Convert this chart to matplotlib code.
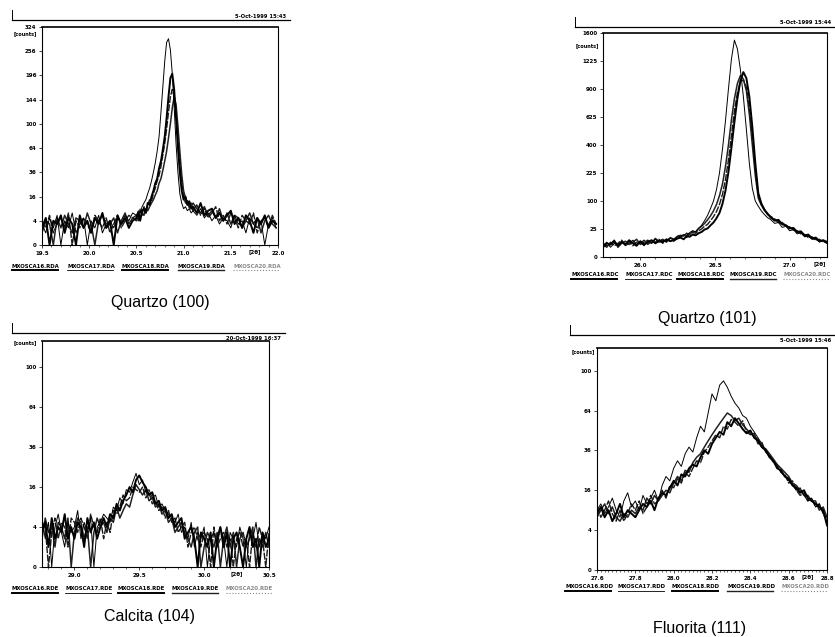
import numpy as np
import matplotlib
matplotlib.use("Agg")
import matplotlib.pyplot as plt
from matplotlib.ticker import MultipleLocator

W, H = 835, 637

# ---- Quartzo (100) : 2theta scan grid and counts of the 4 runs
q100_tt = np.concatenate([np.linspace(19.50, 20.46, 25),
                          np.linspace(20.50, 21.08, 30),
                          np.linspace(21.10, 21.98, 23)])
q100_a = [3, 1, 5, 2, 6, 0, 4, 2, 7, 1, 3, 5, 0, 4, 2, 6, 1, 3, 4, 2, 5, 3, 6, 4, 7,
          6, 8, 7, 10, 12, 14, 18, 22, 28, 36, 46, 60, 80, 120, 170, 230, 280, 290, 260, 200,
          130, 70, 36, 18, 12, 9, 10, 8, 9, 7,
          8, 6, 9, 5, 7, 4, 6, 3, 5, 4, 2, 6, 3, 4, 1, 5, 3, 2, 4, 0, 3, 5, 2]
q100_b = [2, 5, 0, 4, 3, 6, 1, 5, 3, 0, 6, 2, 4, 1, 5, 3, 7, 2, 4, 0, 6, 3, 5, 2, 4,
          5, 7, 4, 8, 9, 7, 12, 11, 16, 20, 26, 30, 40, 48, 62, 80, 110, 150, 190, 200,
          165, 110, 65, 36, 20, 14, 16, 11, 13, 9,
          10, 7, 12, 6, 8, 9, 5, 7, 4, 6, 8, 3, 5, 2, 6, 4, 1, 5, 3, 6, 2, 4, 3]
q100_c = [4, 2, 6, 1, 3, 5, 2, 7, 0, 4, 2, 5, 3, 1, 6, 4, 2, 5, 1, 3, 6, 2, 4, 6, 5,
          6, 4, 9, 6, 10, 8, 11, 14, 13, 18, 22, 28, 33, 42, 55, 70, 92, 120, 150, 165,
          150, 118, 80, 48, 26, 16, 12, 14, 9, 12,
          8, 11, 6, 9, 5, 7, 10, 4, 6, 3, 7, 5, 2, 6, 4, 3, 7, 1, 4, 5, 2, 6, 3]
q100_d = [1, 4, 3, 0, 5, 2, 6, 3, 1, 5, 4, 2, 7, 3, 0, 4, 6, 2, 3, 5, 1, 4, 7, 3, 5,
          4, 6, 5, 7, 6, 9, 8, 10, 12, 14, 17, 20, 26, 30, 38, 48, 60, 78, 100, 128,
          150, 135, 96, 60, 34, 20, 15, 11, 13, 10,
          12, 9, 7, 10, 6, 8, 5, 9, 4, 7, 3, 6, 5, 2, 4, 7, 3, 5, 1, 4, 6, 3, 2]

# ---- Quartzo (101)
q101_tt = np.concatenate([np.linspace(25.75, 26.25, 21),
                          np.linspace(26.27, 26.85, 30),
                          np.linspace(26.875, 27.25, 16)])
q101_a = [4, 7, 3, 6, 5, 8, 4, 6, 9, 5, 7, 4, 8, 6, 10, 7, 9, 8, 11, 10, 13,
          14, 16, 15, 19, 22, 20, 26, 32, 42, 55, 75, 100, 145, 225, 370, 590, 900, 1250, 1500, 1380,
          1120, 820, 520, 280, 150, 100, 82, 68, 58, 50,
          44, 36, 38, 28, 30, 22, 24, 17, 19, 13, 14, 10, 11, 7, 9, 6]
q101_b = [3, 6, 5, 8, 4, 7, 5, 9, 6, 4, 8, 5, 7, 9, 6, 8, 7, 10, 8, 9, 11,
          12, 10, 14, 13, 16, 15, 18, 20, 24, 26, 32, 38, 48, 62, 90, 140, 230, 380, 580, 800,
          990, 1090, 1020, 820, 540, 280, 130, 92, 72, 60,
          50, 42, 44, 34, 32, 26, 27, 20, 21, 15, 16, 11, 12, 8, 9, 7]
q101_c = [5, 3, 7, 4, 6, 9, 5, 8, 4, 7, 6, 9, 5, 8, 7, 10, 6, 9, 11, 8, 12,
          13, 15, 12, 17, 19, 18, 22, 25, 30, 34, 42, 52, 66, 88, 125, 190, 300, 470, 680, 860,
          980, 1000, 920, 720, 460, 240, 120, 88, 74, 58,
          52, 46, 40, 38, 31, 29, 23, 22, 17, 16, 12, 13, 9, 10, 7, 8]
q101_d = [6, 4, 5, 9, 3, 6, 8, 5, 7, 10, 5, 7, 9, 6, 11, 8, 10, 7, 12, 10, 14,
          15, 14, 18, 16, 21, 20, 26, 30, 36, 44, 54, 68, 88, 120, 170, 260, 400, 600, 800, 960,
          1050, 1010, 880, 650, 400, 210, 110, 86, 70, 62,
          48, 45, 38, 36, 32, 27, 25, 20, 19, 14, 14, 11, 10, 8, 8, 6]

# ---- Calcita (104)
cal_tt = np.linspace(28.75, 30.5, 71)
cal_a = [6, 2, 5, 0, 4, 7, 3, 1, 5, 3,
         4, 8, 2, 5, 3, 6, 0, 4, 5, 7,
         6, 5, 9, 8, 12, 10, 15, 14, 18, 22,
         17, 19, 14, 15, 12, 13, 9, 10, 8, 7,
         6, 5, 7, 3, 4, 2, 5, 1, 3, 2,
         4, 0, 2, 3, 1, 4, 2, 0, 3, 2,
         1, 4, 2, 0, 3, 2, 5, 1, 3, 2, 4]
cal_b = [3, 5, 1, 6, 2, 4, 3, 7, 2, 4,
         2, 5, 4, 1, 6, 3, 5, 2, 4, 6,
         4, 7, 6, 10, 8, 11, 13, 16, 14, 19,
         21, 18, 16, 13, 14, 10, 11, 8, 9, 6,
         7, 4, 5, 6, 2, 3, 4, 2, 0, 3,
         2, 1, 3, 0, 2, 4, 1, 3, 0, 2,
         3, 1, 0, 2, 4, 1, 2, 0, 3, 1, 2]
cal_c = [5, 4, 0, 3, 6, 2, 5, 4, 1, 6,
         5, 3, 6, 4, 2, 7, 4, 3, 6, 2,
         5, 3, 8, 7, 9, 13, 11, 12, 16, 15,
         14, 16, 12, 14, 10, 11, 8, 9, 6, 8,
         5, 6, 3, 4, 5, 1, 3, 4, 2, 1,
         3, 2, 0, 4, 1, 2, 3, 1, 2, 0,
         2, 3, 1, 2, 0, 3, 1, 4, 2, 0, 3]
cal_d = [2, 6, 3, 4, 1, 5, 4, 2, 6, 0,
         3, 6, 5, 2, 4, 0, 3, 6, 4, 5,
         3, 6, 5, 9, 6, 8, 10, 9, 13, 17,
         15, 13, 15, 11, 12, 9, 10, 7, 8, 5,
         6, 3, 4, 5, 3, 2, 1, 3, 4, 0,
         1, 3, 2, 1, 3, 0, 2, 4, 1, 3,
         0, 2, 3, 1, 2, 4, 0, 2, 1, 3, 1]

# ---- Fluorita (111)
flu_tt = np.linspace(27.6, 28.8, 61)
flu_a = [9, 11, 8, 10, 13, 9, 7, 12, 15, 10,
         12, 9, 14, 11, 13, 16, 12, 18, 22, 20,
         26, 30, 27, 34, 38, 35, 44, 52, 48, 62,
         78, 72, 86, 90, 84, 76, 70, 66, 60, 58,
         52, 48, 44, 40, 36, 33, 30, 27, 24, 22,
         20, 18, 16, 17, 14, 12, 13, 10, 11, 8, 7]
flu_b = [8, 10, 7, 9, 6, 8, 11, 7, 9, 8,
         7, 9, 11, 10, 12, 9, 13, 15, 14, 17,
         20, 18, 23, 22, 26, 28, 27, 32, 36, 34,
         40, 44, 48, 46, 55, 52, 58, 54, 50, 47,
         49, 44, 42, 38, 36, 32, 30, 26, 25, 22,
         21, 18, 17, 15, 16, 13, 12, 11, 10, 9, 5]
flu_c = [10, 7, 9, 12, 8, 6, 9, 6, 8, 11,
         9, 12, 8, 10, 14, 11, 12, 16, 13, 18,
         17, 21, 19, 24, 22, 26, 30, 29, 35, 38,
         42, 46, 44, 52, 50, 57, 55, 52, 56, 48,
         46, 47, 40, 41, 35, 33, 29, 28, 24, 23,
         19, 20, 16, 14, 15, 12, 13, 10, 11, 8, 6]
flu_d = [7, 9, 11, 8, 10, 7, 6, 8, 7, 9,
         8, 10, 9, 13, 11, 14, 12, 14, 16, 15,
         19, 22, 20, 25, 24, 29, 32, 34, 38, 42,
         46, 50, 54, 58, 62, 60, 56, 58, 53, 50,
         47, 45, 43, 38, 37, 34, 31, 28, 26, 24,
         22, 19, 18, 16, 14, 14, 12, 12, 9, 10, 7]

# file names of the runs (legend under each plot)
runs = ["MXOSCA16", "MXOSCA17", "MXOSCA18", "MXOSCA19", "MXOSCA20"]


def sq_fwd(y):
    return np.sqrt(np.clip(y, 0, None))


def sq_inv(y):
    return np.square(y)


def rect(l, t, r, b):
    return [l / W, 1 - b / H, (r - l) / W, (b - t) / H]


styles = [dict(color="black", lw=0.7),
          dict(color="black", lw=1.4),
          dict(color="#1a1a1a", lw=1.0, ls=(0, (5, 1))),
          dict(color="#222222", lw=1.1)]
ul_styles = [dict(color="black", lw=1.4), dict(color="black", lw=0.6),
             dict(color="black", lw=1.4), dict(color="#222222", lw=1.0),
             dict(color="#888888", lw=0.8, ls=":")]

panels = [
    dict(box=(42, 27, 278, 245), tt=q100_tt, ys=[q100_d, q100_c, q100_b, q100_a],
         xlim=(19.5, 22.0), ytop=324, yt=[0, 4, 16, 36, 64, 100, 144, 196, 256, 324],
         xt=[19.5, 20.0, 20.5, 21.0, 21.5, 22.0], minor=0.1, unit_x=21.75,
         head=(12, 290, 20), date="5-Oct-1999 15:43", date_y=16, ext="RDA",
         counts=(14, 34), leg_y=266, leg_x=[12, 67, 122, 178, 233],
         caption="Quartzo (100)", cap=(160, 302)),
    dict(box=(603, 33, 827, 257), tt=q101_tt, ys=[q101_d, q101_c, q101_b, q101_a],
         xlim=(25.75, 27.25), ytop=1600, yt=[0, 25, 100, 225, 400, 625, 900, 1225, 1600],
         xt=[26.0, 26.5, 27.0], minor=0.1, unit_x=27.2,
         head=(575, 835, 27), date="5-Oct-1999 15:44", date_y=23, ext="RDC",
         counts=(576, 46), leg_y=275, leg_x=[571, 625, 677, 730, 783],
         caption="Quartzo (101)", cap=(707, 318)),
    dict(box=(42, 341, 269, 567), tt=cal_tt, ys=[cal_d, cal_c, cal_b, cal_a],
         xlim=(28.75, 30.5), ytop=128, yt=[0, 4, 16, 36, 64, 100],
         xt=[29.0, 29.5, 30.0, 30.5], minor=0.1, unit_x=30.25,
         head=(12, 285, 333), date="20-Oct-1999 16:37", date_y=338, ext="RDE",
         counts=(14, 343), leg_y=589, leg_x=[12, 65, 118, 172, 226],
         caption="Calcita (104)", cap=(150, 617)),
    dict(box=(597, 348, 827, 570), tt=flu_tt, ys=[flu_d, flu_c, flu_b, flu_a],
         xlim=(27.6, 28.8), ytop=124, yt=[0, 4, 16, 36, 64, 100],
         xt=[27.6, 27.8, 28.0, 28.2, 28.4, 28.6, 28.8], minor=0.02, unit_x=28.7,
         head=(570, 835, 335), date="5-Oct-1999 15:46", date_y=340, ext="RDD",
         counts=(572, 352), leg_y=587, leg_x=[565, 618, 672, 727, 781],
         caption="Fluorita (111)", cap=(700, 628)),
]

fig = plt.figure(figsize=(W / 100, H / 100), dpi=100)
fig.patch.set_facecolor("white")

for p in panels:
    ax = fig.add_axes(rect(*p["box"]))
    st_order = [styles[3], styles[2], styles[1], styles[0]]
    for y, st in zip(p["ys"], st_order):
        ax.plot(p["tt"], y, **st)
    ax.set_yscale("function", functions=(sq_fwd, sq_inv))
    ax.set_xlim(*p["xlim"])
    ax.set_ylim(0, p["ytop"])
    ax.set_yticks(p["yt"])
    ax.set_yticklabels([str(v) for v in p["yt"]])
    ax.set_xticks(p["xt"])
    ax.set_xticklabels(["%.1f" % v for v in p["xt"]])
    ax.xaxis.set_minor_locator(MultipleLocator(p["minor"]))
    ax.yaxis.set_minor_locator(plt.NullLocator())
    ax.tick_params(axis="both", which="major", labelsize=4, length=2.5,
                   width=0.5, pad=1.5, direction="out")
    ax.tick_params(axis="x", which="minor", length=1.5, width=0.4, direction="out")
    for lab in ax.get_xticklabels() + ax.get_yticklabels():
        lab.set_fontweight("bold")
    for sp in ax.spines.values():
        sp.set_linewidth(0.8)
    ax.spines["top"].set_linewidth(1.2)
    ax.text(p["unit_x"], -0.018, "[2θ]", transform=ax.get_xaxis_transform(),
            fontsize=4, fontweight="bold", ha="center", va="top")

# overlay in pixel coordinates for header lines, legends and captions
ov = fig.add_axes([0, 0, 1, 1])
ov.set_xlim(0, W)
ov.set_ylim(H, 0)
ov.axis("off")

for p in panels:
    x0, x1, yh = p["head"]
    ov.plot([x0, x1], [yh, yh], color="black", lw=0.9)
    ov.plot([x0, x0], [yh - 10, yh], color="black", lw=0.7)
    ov.text(x1 - 4, p["date_y"], p["date"], fontsize=3.8, fontweight="bold",
            ha="right", va="center")
    ov.text(p["counts"][0], p["counts"][1], "[counts]", fontsize=3.6,
            fontweight="bold", ha="left", va="center")
    for i, (name, lx) in enumerate(zip(runs, p["leg_x"])):
        col = "#888888" if i == 4 else "black"
        ov.text(lx, p["leg_y"], name + "." + p["ext"], fontsize=3.9,
                fontweight="bold", color=col, ha="left", va="center")
        ov.plot([lx, lx + 46], [p["leg_y"] + 3.5, p["leg_y"] + 3.5], **ul_styles[i])
    ov.text(p["cap"][0], p["cap"][1], p["caption"], fontsize=11.5,
            family="Liberation Sans", ha="center", va="center")

fig.savefig("out.png", dpi=100, facecolor="white")
